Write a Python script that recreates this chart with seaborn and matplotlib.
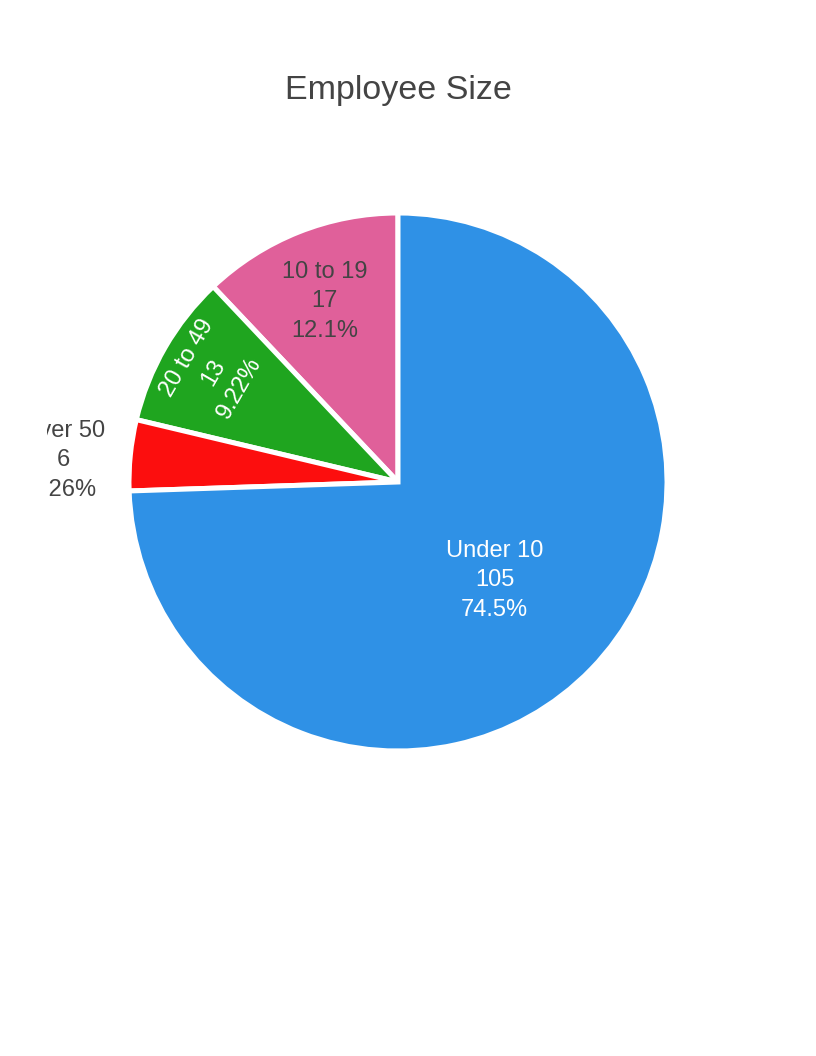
import matplotlib
matplotlib.use("Agg")
import matplotlib.pyplot as plt
from matplotlib.transforms import Bbox
import numpy as np
import seaborn as sns

# === data ===
CATEGORIES = ["10 to 19", "20 to 49", "Over 50", "Under 10"]
COUNTS = [17, 13, 6, 105]
COLORS = ["#E0609A", "#1FA51F", "#FC0E0E", "#2F91E6"]

# === style ===
TEXT_COLORS = ["#444444", "white", "#444444", "white"]
LABEL_DIST = [0.735, 0.81, 1.25, 0.51]
LABEL_NUDGE = [(0, -3), (4, 0), (0, -12), (-2, -3)]  # pixels, fine tuning
ROTATE = [False, True, False, False]
W, H = 816, 1056
CX, CY, R = 398, H - 482, 269

sns.set_theme(style="white")
plt.rcParams["font.family"] = ["Liberation Sans", "DejaVu Sans"]

fig = plt.figure(figsize=(W / 100, H / 100), dpi=100)
ax = fig.add_axes([0, 0, 1, 1])

wedges, _ = ax.pie(COUNTS, colors=COLORS, startangle=90, counterclock=True,
                   center=(CX, CY), radius=R,
                   wedgeprops=dict(edgecolor="white", linewidth=3.6))

ax.set_xlim(0, W)
ax.set_ylim(0, H)
ax.set_aspect("equal")
ax.axis("off")

total = sum(COUNTS)
clip = Bbox([[47, 0], [W, H]])
for w, cat, n, tc, d, nudge, rot in zip(wedges, CATEGORIES, COUNTS, TEXT_COLORS,
                                         LABEL_DIST, LABEL_NUDGE, ROTATE):
    mid = np.deg2rad((w.theta1 + w.theta2) / 2)
    x = CX + d * R * np.cos(mid) + nudge[0]
    y = CY + d * R * np.sin(mid) + nudge[1]
    angle = np.rad2deg(mid) - 90 if rot else 0
    t = ax.text(x, y, f"{cat}\n{n}\n{n / total * 100:.3g}%", ha="center", va="center",
                fontsize=17, color=tc, rotation=angle, rotation_mode="anchor",
                linespacing=1.45)
    t.set_clip_box(clip)
    t.set_clip_on(True)

fig.text(398 / W, 1 - 91 / H, "Employee Size", ha="center", va="center",
         fontsize=24.5, color="#444444")

fig.savefig("out.png", dpi=100)
